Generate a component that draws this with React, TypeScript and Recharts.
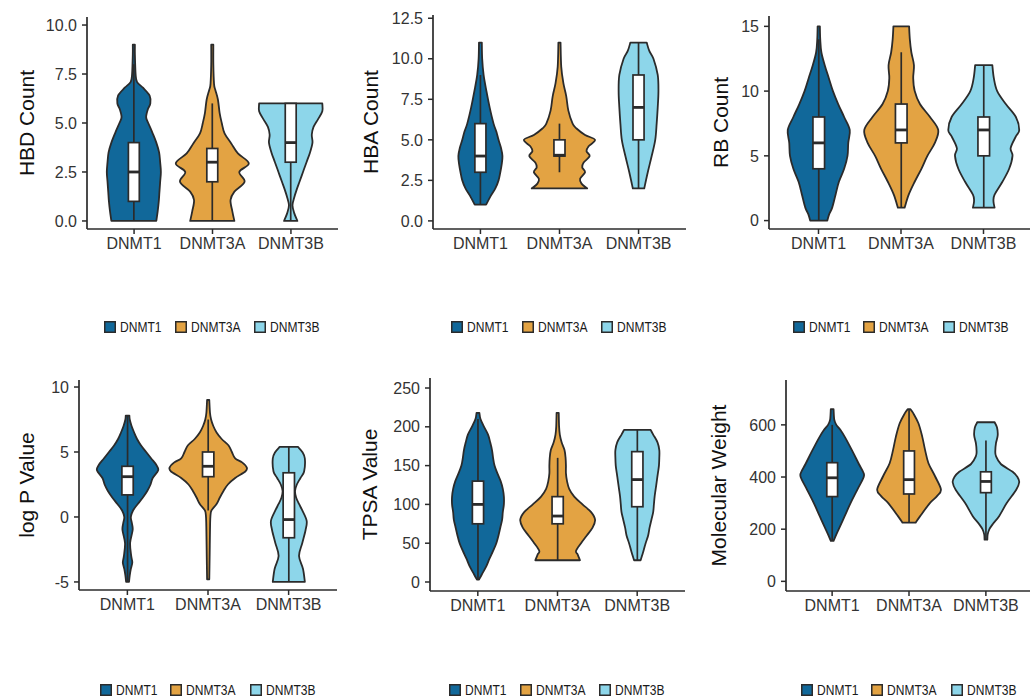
import React from 'react';
import { ComposedChart, Bar, XAxis, YAxis } from 'recharts';

const groups = ['DNMT1', 'DNMT3A', 'DNMT3B'];
const groupColors = ['#11689a', '#e3a343', '#8dd6ea'];
const INK = '#2b2b2b';

// violin outlines: [value, relative half-width]
const hbdDnmt1 = [[0, 0.64], [0.5, 0.68], [1, 0.71], [1.5, 0.73], [2, 0.75], [2.5, 0.77], [3, 0.75], [3.5, 0.72], [4, 0.64], [4.5, 0.53], [5, 0.41], [5.3, 0.35], [5.7, 0.4], [6, 0.47], [6.4, 0.45], [6.8, 0.26], [7.1, 0.09], [7.5, 0.05], [8.5, 0.03], [9, 0.03]];
const hbdDnmt3a = [[0, 0.63], [0.5, 0.57], [1.07, 0.52], [1.5, 0.63], [2, 0.92], [2.5, 0.77], [2.94, 1.04], [3.45, 0.73], [3.96, 0.54], [4.47, 0.35], [5, 0.27], [5.5, 0.21], [6.2, 0.16], [6.7, 0.085], [7, 0.05], [8, 0.03], [9, 0.03]];
const hbdDnmt3b = [[0, 0.19], [0.4, 0.1], [0.8, 0.05], [1.2, 0.1], [1.6, 0.17], [2, 0.25], [2.5, 0.35], [3, 0.45], [3.5, 0.55], [4, 0.62], [4.4, 0.6], [4.8, 0.65], [5.2, 0.78], [5.6, 0.9], [6, 0.9]];
const hbdBoxes = [[0, 1, 2.5, 4, 8], [0, 2, 3, 3.7, 6], [0, 3, 4, 6, 6]];
const hbdTicks = [0, 2.5, 5, 7.5, 10];

const hbaDnmt1 = [[1, 0.16], [1.5, 0.28], [2, 0.42], [2.5, 0.51], [3, 0.56], [3.5, 0.6], [4, 0.62], [4.5, 0.58], [5, 0.51], [5.5, 0.45], [6, 0.37], [7, 0.26], [8, 0.17], [9, 0.09], [10, 0.05], [11, 0.04]];
const hbaDnmt3a = [[2, 0.78], [2.3, 0.62], [2.6, 0.58], [3, 0.72], [3.3, 0.64], [3.6, 0.68], [4, 0.85], [4.3, 0.76], [4.6, 0.82], [5, 1.0], [5.3, 0.72], [5.7, 0.48], [6, 0.37], [6.8, 0.25], [7.7, 0.19], [8.5, 0.11], [9.5, 0.05], [11, 0.03]];
const hbaDnmt3b = [[2, 0.16], [3, 0.26], [4, 0.37], [5, 0.47], [6, 0.51], [7, 0.54], [8, 0.56], [9, 0.54], [10, 0.42], [10.5, 0.3], [11, 0.23]];
const hbaBoxes = [[1, 3, 4, 6, 9], [3, 4, 4.05, 5, 6], [2, 5, 7, 9, 11]];
const hbaTicks = [0, 2.5, 5, 7.5, 10, 12.5];

const rbDnmt1 = [[0, 0.23], [0.5, 0.28], [1, 0.36], [2, 0.45], [3, 0.54], [4, 0.68], [5, 0.77], [6, 0.79], [7, 0.83], [8, 0.68], [9, 0.52], [10, 0.38], [11, 0.27], [12, 0.16], [13, 0.07], [14, 0.04], [15, 0.03]];
const rbDnmt3a = [[1, 0.09], [2, 0.2], [3, 0.36], [4, 0.54], [5, 0.7], [6, 0.9], [7, 0.99], [8, 0.77], [9, 0.5], [10, 0.36], [11, 0.32], [12, 0.34], [13, 0.27], [14, 0.23], [15, 0.21]];
const rbDnmt3b = [[1, 0.29], [1.5, 0.26], [2, 0.29], [3, 0.5], [4, 0.68], [5, 0.77], [5.6, 0.72], [6.5, 0.86], [7, 0.95], [8, 0.86], [9, 0.59], [10, 0.36], [11, 0.27], [12, 0.23]];
const rbBoxes = [[0, 4, 6, 8, 14], [1, 6, 7, 9, 13], [1, 5, 7, 8, 12]];
const rbTicks = [0, 5, 10, 15];

const logpDnmt1 = [[-5, 0.04], [-4.5, 0.06], [-4, 0.09], [-3.5, 0.13], [-3, 0.1], [-2, 0.07], [-1, 0.14], [-0.5, 0.12], [0, 0.09], [0.5, 0.15], [1, 0.28], [1.5, 0.42], [2, 0.54], [2.5, 0.63], [3, 0.69], [3.6, 0.84], [4, 0.79], [4.5, 0.65], [5, 0.51], [5.5, 0.37], [6, 0.26], [6.5, 0.18], [7, 0.11], [7.5, 0.06], [7.8, 0.05]];
const logpDnmt3a = [[-4.8, 0.03], [-3, 0.04], [-1, 0.05], [0, 0.06], [0.5, 0.09], [1, 0.23], [1.5, 0.32], [2, 0.42], [2.5, 0.54], [3, 0.74], [3.5, 1.02], [3.8, 1.06], [4.2, 0.93], [4.5, 0.74], [5, 0.65], [5.5, 0.56], [6, 0.37], [6.5, 0.23], [7, 0.14], [7.5, 0.08], [8, 0.05], [9, 0.03]];
const logpDnmt3b = [[-5, 0.44], [-4, 0.39], [-3, 0.28], [-2, 0.37], [-1, 0.46], [-0.3, 0.49], [0.5, 0.37], [1, 0.28], [1.5, 0.2], [2, 0.17], [2.5, 0.22], [3, 0.32], [3.5, 0.42], [4.5, 0.44], [5, 0.37], [5.4, 0.25]];
const logpBoxes = [[-5, 1.7, 3.1, 3.9, 7.8], [0.5, 3.1, 3.9, 5, 7.5], [-5, -1.6, -0.2, 3.4, 5.4]];
const logpTicks = [-5, 0, 5, 10];

const tpsaDnmt1 = [[3, 0.03], [10, 0.11], [20, 0.23], [30, 0.32], [40, 0.42], [50, 0.51], [60, 0.57], [70, 0.62], [80, 0.67], [90, 0.69], [100, 0.72], [110, 0.72], [120, 0.69], [130, 0.63], [140, 0.54], [150, 0.46], [160, 0.42], [170, 0.39], [180, 0.34], [190, 0.28], [200, 0.17], [210, 0.07], [218, 0.04]];
const tpsaDnmt3a = [[28, 0.62], [35, 0.56], [40, 0.51], [50, 0.65], [60, 0.81], [70, 0.97], [80, 1.04], [90, 0.93], [100, 0.69], [110, 0.46], [120, 0.32], [130, 0.26], [140, 0.23], [150, 0.23], [160, 0.22], [170, 0.19], [180, 0.11], [190, 0.06], [200, 0.04], [218, 0.03]];
const tpsaDnmt3b = [[28, 0.09], [40, 0.17], [50, 0.23], [60, 0.3], [70, 0.34], [80, 0.39], [90, 0.44], [100, 0.46], [110, 0.48], [120, 0.51], [130, 0.54], [140, 0.57], [150, 0.6], [160, 0.61], [170, 0.61], [180, 0.56], [190, 0.44], [196, 0.37]];
const tpsaBoxes = [[3, 75, 100, 130, 210], [28, 75, 85, 110, 160], [28, 97, 132, 168, 196]];
const tpsaTicks = [0, 50, 100, 150, 200, 250];

const mwDnmt1 = [[155, 0.04], [180, 0.12], [200, 0.19], [250, 0.36], [300, 0.53], [350, 0.72], [400, 0.91], [420, 0.89], [450, 0.77], [500, 0.58], [550, 0.38], [580, 0.24], [600, 0.12], [620, 0.06], [660, 0.04]];
const mwDnmt3a = [[225, 0.19], [250, 0.32], [300, 0.6], [326, 0.8], [352, 0.92], [403, 0.75], [453, 0.56], [505, 0.46], [555, 0.38], [606, 0.27], [645, 0.12], [660, 0.04]];
const mwDnmt3b = [[160, 0.04], [180, 0.05], [200, 0.1], [220, 0.2], [250, 0.38], [300, 0.6], [350, 0.87], [380, 0.96], [400, 0.91], [420, 0.77], [450, 0.43], [480, 0.29], [500, 0.27], [530, 0.29], [560, 0.34], [590, 0.32], [610, 0.25]];
const mwBoxes = [[155, 325, 397, 455, 600], [225, 335, 390, 500, 660], [160, 340, 383, 420, 540]];
const mwTicks = [0, 200, 400, 600];

type Profile = number[][];

function buildRows(profiles: Profile[], boxes: number[][]) {
  return groups.map((g, i) => ({
    group: g,
    range: [profiles[i][0][0], profiles[i][profiles[i].length - 1][0]],
    profile: profiles[i],
    box: boxes[i],
    color: groupColors[i],
  }));
}

const panels = [
  { title: 'HBD Count', rows: buildRows([hbdDnmt1, hbdDnmt3a, hbdDnmt3b], hbdBoxes), ticks: hbdTicks, domain: [-0.41, 10.41], digits: 1, col: 0, rowTop: 0, L: 87, R: 338, T: 17, B: 229, titleX: 26, legendY: 327 },
  { title: 'HBA Count', rows: buildRows([hbaDnmt1, hbaDnmt3a, hbaDnmt3b], hbaBoxes), ticks: hbaTicks, domain: [-0.5, 12.7], digits: 1, col: 343, rowTop: 0, L: 433, R: 686, T: 15, B: 229, titleX: 27, legendY: 327 },
  { title: 'RB Count', rows: buildRows([rbDnmt1, rbDnmt3a, rbDnmt3b], rbBoxes), ticks: rbTicks, domain: [-0.65, 15.8], digits: 0, col: 686, rowTop: 0, L: 769, R: 1033, T: 16, B: 229, titleX: 34, legendY: 327 },
  { title: 'log P Value', rows: buildRows([logpDnmt1, logpDnmt3a, logpDnmt3b], logpBoxes), ticks: logpTicks, domain: [-5.62, 10.54], digits: 0, col: 0, rowTop: 360, L: 79, R: 337, T: 380, B: 590, titleX: 26, legendY: 690 },
  { title: 'TPSA Value', rows: buildRows([tpsaDnmt1, tpsaDnmt3a, tpsaDnmt3b], tpsaBoxes), ticks: tpsaTicks, domain: [-11.6, 262.9], digits: 0, col: 343, rowTop: 360, L: 430, R: 685, T: 378, B: 591, titleX: 26, legendY: 690 },
  { title: 'Molecular Weight', rows: buildRows([mwDnmt1, mwDnmt3a, mwDnmt3b], mwBoxes), ticks: mwTicks, domain: [-37, 772], digits: 0, col: 686, rowTop: 360, L: 786, R: 1032, T: 380, B: 591, titleX: 32, legendY: 690 },
];

function smooth(pts: number[][]): string {
  let d = '';
  for (let i = 0; i < pts.length - 1; i++) {
    const p0 = pts[Math.max(i - 1, 0)];
    const p1 = pts[i];
    const p2 = pts[i + 1];
    const p3 = pts[Math.min(i + 2, pts.length - 1)];
    const c1x = p1[0] + (p2[0] - p0[0]) / 6;
    const c1y = p1[1] + (p2[1] - p0[1]) / 6;
    const c2x = p2[0] - (p3[0] - p1[0]) / 6;
    const c2y = p2[1] - (p3[1] - p1[1]) / 6;
    d += ` C${c1x},${c1y} ${c2x},${c2y} ${p2[0]},${p2[1]}`;
  }
  return d;
}

function ViolinShape(props: any) {
  const { x, y, width, height, payload } = props;
  if (!payload) return null;
  const [lo, hi] = payload.range;
  const top = Math.min(y, y + height);
  const h = Math.abs(height);
  const py = (v: number) => top + ((hi - v) / (hi - lo)) * h;
  const cx = x + width / 2;
  const half = 0.45 * width;
  const left = payload.profile.map(([v, dd]: number[]) => [cx - dd * half, py(v)]);
  const right = [...payload.profile].reverse().map(([v, dd]: number[]) => [cx + dd * half, py(v)]);
  const d = `M${left[0][0]},${left[0][1]}` + smooth(left) + ` L${right[0][0]},${right[0][1]}` + smooth(right) + ' Z';
  const [wLo, q1, med, q3, wHi] = payload.box;
  const bw = 0.14 * width;
  return (
    <g>
      <path d={d} fill={payload.color} stroke={INK} strokeWidth={1.8} strokeLinejoin="round" />
      <line x1={cx} x2={cx} y1={py(wLo)} y2={py(wHi)} stroke={INK} strokeWidth={1.7} />
      <rect x={cx - bw / 2} y={py(q3)} width={bw} height={py(q1) - py(q3)} fill="#ffffff" stroke={INK} strokeWidth={1.7} />
      <line x1={cx - bw / 2} x2={cx + bw / 2} y1={py(med)} y2={py(med)} stroke={INK} strokeWidth={2.8} />
    </g>
  );
}

const tickStyle = { fill: '#333333', fontSize: 16, fontFamily: '"Liberation Sans", Arial, sans-serif' };

function Panel({ p }: { p: (typeof panels)[number] }) {
  const width = p.R - p.col;
  const height = p.B - p.rowTop + 30;
  const pad = (p.R - p.L) / 32;
  const titleY = (p.T + p.B) / 2 - p.rowTop;
  return (
    <div style={{ position: 'absolute', left: p.col, top: p.rowTop }}>
      <ComposedChart
        width={width}
        height={height}
        data={p.rows}
        margin={{ top: p.T - p.rowTop, right: 0, bottom: 0, left: 0 }}
        barCategoryGap={0}
      >
        <XAxis
          dataKey="group"
          height={30}
          padding={{ left: pad, right: pad }}
          axisLine={{ stroke: INK, strokeWidth: 1.7 }}
          tickLine={{ stroke: INK, strokeWidth: 1.5 }}
          tickSize={5}
          tickMargin={4}
          tick={tickStyle}
          interval={0}
        />
        <YAxis
          type="number"
          width={p.L - p.col}
          domain={p.domain}
          ticks={p.ticks}
          allowDataOverflow
          axisLine={{ stroke: INK, strokeWidth: 1.7 }}
          tickLine={{ stroke: INK, strokeWidth: 1.5 }}
          tickSize={5}
          tickMargin={5}
          tick={tickStyle}
          tickFormatter={(v: number) => v.toFixed(p.digits)}
          label={{
            content: () => (
              <text
                x={p.titleX}
                y={titleY}
                transform={`rotate(-90, ${p.titleX}, ${titleY})`}
                textAnchor="middle"
                dominantBaseline="central"
                fontSize={21}
                fontFamily='"Liberation Sans", Arial, sans-serif'
                fill="#111111"
              >
                {p.title}
              </text>
            ),
          }}
        />
        <Bar dataKey="range" shape={ViolinShape} isAnimationActive={false} />
      </ComposedChart>
    </div>
  );
}

function GroupLegend({ p }: { p: (typeof panels)[number] }) {
  return (
    <div
      style={{
        position: 'absolute',
        left: p.L,
        width: p.R - p.L,
        top: p.legendY - 7,
        height: 14,
        display: 'flex',
        justifyContent: 'center',
        alignItems: 'center',
        gap: 13,
        fontFamily: '"Liberation Sans Narrow", "Arial Narrow", "Liberation Sans", sans-serif',
        fontSize: 14,
        color: '#1a1a1a',
        whiteSpace: 'nowrap',
        lineHeight: '14px',
      }}
    >
      {groups.map((g, i) => (
        <div key={g} style={{ display: 'flex', alignItems: 'center', gap: 4 }}>
          <svg width={12} height={12} style={{ display: 'block' }}>
            <rect x={0.75} y={0.75} width={10.5} height={10.5} fill={groupColors[i]} stroke={INK} strokeWidth={1.5} />
          </svg>
          <span style={{ display: 'inline-block', transform: 'scaleX(0.86)', transformOrigin: 'left center', marginRight: -7 }}>{g}</span>
        </div>
      ))}
    </div>
  );
}

export default function App() {
  return (
    <div
      style={{
        position: 'absolute',
        left: 0,
        top: 0,
        width: 1030,
        height: 700,
        overflow: 'hidden',
        background: '#ffffff',
      }}
    >
      {panels.map((p) => (
        <Panel key={p.title} p={p} />
      ))}
      {panels.map((p) => (
        <GroupLegend key={p.title + '-legend'} p={p} />
      ))}
    </div>
  );
}
